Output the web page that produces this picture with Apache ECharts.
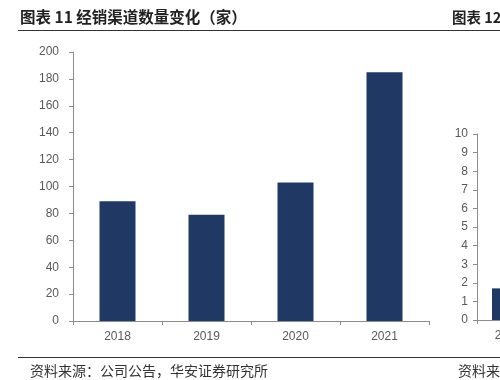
<!DOCTYPE html>
<html lang="zh-CN">

<head>
    <meta charset="UTF-8">
    <title>经销渠道数量变化</title>
    <script src="https://cdn.jsdelivr.net/npm/echarts@6/dist/echarts.min.js"></script>
    <style>
        html, body { margin: 0; background: #fff; overflow: hidden; }
    </style>
</head>

<body>
    <!-- 画布比窗口宽，右侧的图表 12 被窗口截断 -->
    <div id="main" style="width: 580px;height:380px;"></div>
    <script type="text/javascript">
        var myChart = echarts.init(document.getElementById('main'));

        // 图表 11 数据
        var years = ['2018', '2019', '2020', '2021'];
        var dealers = [89, 79, 103, 185];
        var yTicks = [0, 200, 20];   // min, max, interval

        // 右侧被截断的图表 12（只露出第一根柱子）
        var years12 = ['2018'];
        var values12 = [1.7];
        var yTicks12 = [0, 10, 1];

        var barColor = '#1f3864';
        var axisColor = '#8c8c8c';
        var labelColor = '#595959';
        var fontFamily = 'Liberation Sans, Arial, sans-serif';
        var cjkFont = 'Noto Sans CJK SC, sans-serif';

        var option = {
            animation: false,
            backgroundColor: '#fff',
            title: [
                {
                    text: '图表 11 经销渠道数量变化（家）',
                    left: 20,
                    top: 9,
                    padding: 0,
                    textStyle: { fontSize: 15.5, fontWeight: 'bold', color: '#222', fontFamily: cjkFont }
                },
                {
                    text: '图表 12',
                    left: 452,
                    top: 10,
                    padding: 0,
                    textStyle: { fontSize: 14.5, fontWeight: 'bold', color: '#222', fontFamily: cjkFont }
                },
                {
                    text: '资料来源：公司公告，华安证券研究所',
                    left: 30,
                    top: 364,
                    padding: 0,
                    textStyle: { fontSize: 14, fontWeight: 'normal', color: '#333', fontFamily: cjkFont }
                },
                {
                    text: '资料来源',
                    left: 458,
                    top: 364,
                    padding: 0,
                    textStyle: { fontSize: 14, fontWeight: 'normal', color: '#333', fontFamily: cjkFont }
                }
            ],
            // 标题下划线与页脚分隔线
            graphic: [
                {
                    type: 'line',
                    shape: { x1: 18, y1: 30.5, x2: 580, y2: 30.5 },
                    style: { stroke: '#333', lineWidth: 1.2 }
                },
                {
                    type: 'line',
                    shape: { x1: 18, y1: 357.5, x2: 580, y2: 357.5 },
                    style: { stroke: '#333', lineWidth: 1 }
                }
            ],
            grid: [
                { left: 73, width: 356, top: 52, bottom: 59, containLabel: false },
                { left: 477, width: 62, top: 134, bottom: 60, containLabel: false }
            ],
            xAxis: [
                {
                    type: 'category',
                    gridIndex: 0,
                    data: years,
                    axisLine: { lineStyle: { color: axisColor, width: 1 } },
                    axisTick: { show: true, alignWithLabel: false, length: 4, lineStyle: { color: axisColor } },
                    axisLabel: { color: labelColor, fontSize: 12, fontFamily: fontFamily, margin: 10 }
                },
                {
                    type: 'category',
                    gridIndex: 1,
                    data: years12,
                    axisLine: { lineStyle: { color: axisColor, width: 1 } },
                    axisTick: { show: true, length: 4, lineStyle: { color: axisColor } },
                    axisLabel: { color: labelColor, fontSize: 12, fontFamily: fontFamily, margin: 10 }
                }
            ],
            yAxis: [
                {
                    type: 'value',
                    gridIndex: 0,
                    min: yTicks[0],
                    max: yTicks[1],
                    interval: yTicks[2],
                    splitLine: { show: false },
                    axisLine: { show: true, lineStyle: { color: axisColor, width: 1 } },
                    axisTick: { show: true, length: 4, lineStyle: { color: axisColor } },
                    axisLabel: { color: labelColor, fontSize: 12, fontFamily: fontFamily, margin: 14 }
                },
                {
                    type: 'value',
                    gridIndex: 1,
                    min: yTicks12[0],
                    max: yTicks12[1],
                    interval: yTicks12[2],
                    splitLine: { show: false },
                    axisLine: { show: true, lineStyle: { color: axisColor, width: 1 } },
                    axisTick: { show: true, length: 4, lineStyle: { color: axisColor } },
                    axisLabel: { color: labelColor, fontSize: 12, fontFamily: fontFamily, margin: 9 }
                }
            ],
            series: [
                {
                    type: 'bar',
                    xAxisIndex: 0,
                    yAxisIndex: 0,
                    data: dealers,
                    barWidth: 36,
                    itemStyle: { color: barColor }
                },
                {
                    type: 'bar',
                    xAxisIndex: 1,
                    yAxisIndex: 1,
                    data: values12,
                    barWidth: 32,
                    itemStyle: { color: barColor }
                }
            ]
        };

        myChart.setOption(option);
    </script>
</body>

</html>
